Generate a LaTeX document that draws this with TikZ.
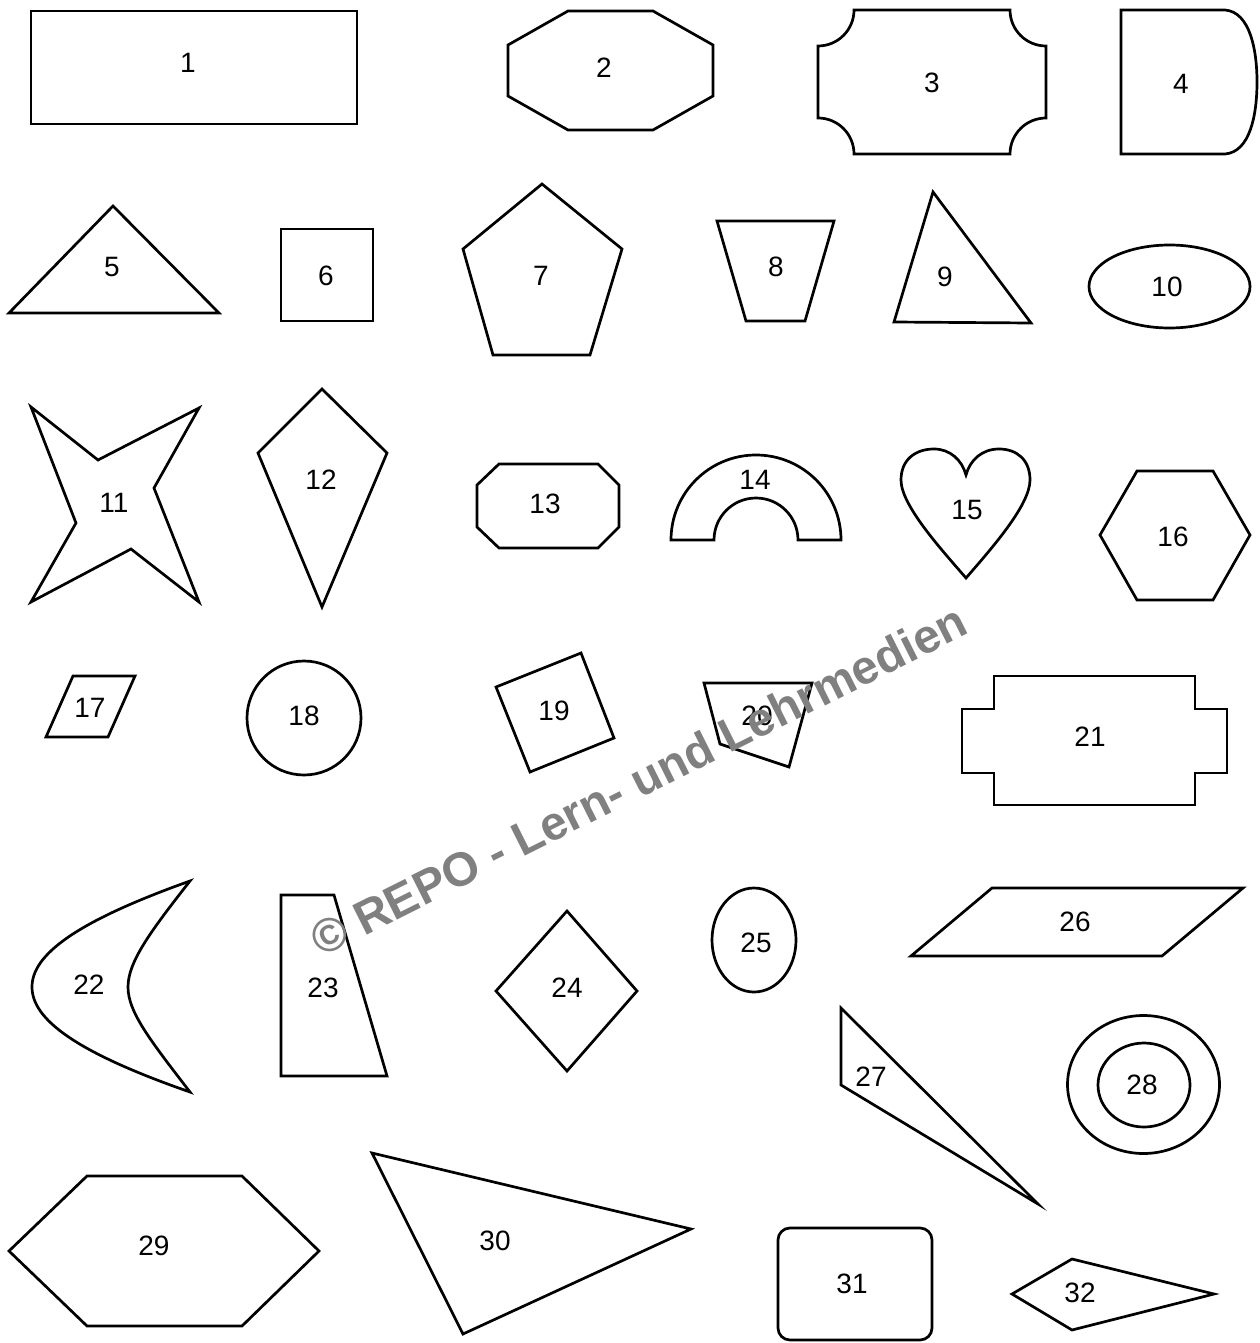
\documentclass[tikz,border=0pt]{standalone}
\usepackage{fontspec}
\setmainfont{Liberation Sans}

\begin{document}
\begin{tikzpicture}[
  x=1pt, y=-1pt,
  shp/.style={draw=black, line width=2.7pt},
  lbl/.style={inner sep=0pt, font=\fontsize{28}{30}\selectfont},
  wmark/.style={
    inner sep=0pt, anchor=base west, rotate=26.6,
    text=black!50,
    font=\bfseries\fontsize{47.5}{50}\selectfont,
  },
]
\useasboundingbox[fill=white] (0,0) rectangle (1260,1343);

%---------- row 1 ----------
\draw[shp] (31,11) rectangle (357,124);
\draw[shp] (568,11) -- (653,11) -- (713,45) -- (713,96) -- (653,130)
  -- (568,130) -- (508,96) -- (508,45) -- cycle;
\draw[shp] (854,10) -- (1010,10) arc[start angle=180, end angle=90, radius=36]
  -- (1046,118) arc[start angle=270, end angle=180, radius=36]
  -- (854,154) arc[start angle=0, end angle=-90, radius=36]
  -- (818,46) arc[start angle=90, end angle=0, radius=36] -- cycle;
\draw[shp] (1121,10) -- (1225,10) .. controls (1250,12) and (1257,50) .. (1257,82)
  .. controls (1257,115) and (1250,152) .. (1225,154) -- (1121,154) -- cycle;

%---------- row 2 ----------
\draw[shp] (9,313) -- (113,206) -- (219,313) -- cycle;
\draw[shp] (281,229) rectangle (373,321);
\draw[shp] (542,184) -- (622,249) -- (590,355) -- (493,355) -- (463,249) -- cycle;
\draw[shp] (717,221) -- (834,221) -- (805,321) -- (746,321) -- cycle;
\draw[shp] (933,192) -- (1031,323) -- (894,322) -- cycle;
\draw[shp] (1169.5,286.5) ellipse[x radius=80.5, y radius=41.5];

%---------- row 3 ----------
\draw[shp] (31,407) -- (98,460) -- (199,408) -- (154,488) -- (199,602)
  -- (131,549) -- (31,602) -- (76,523) -- cycle;
\draw[shp] (322,389) -- (387,453) -- (322,607) -- (258,453) -- cycle;
\draw[shp] (499,464) -- (598,464) -- (619,485) -- (619,527) -- (598,548)
  -- (499,548) -- (477,527) -- (477,485) -- cycle;
\draw[shp] (671,540) arc[start angle=180, end angle=360, radius=85]
  -- (798,540) arc[start angle=0, end angle=-180, radius=42] -- cycle;
\draw[shp] (966,578) .. controls (940,548) and (901,505) .. (901,480)
  .. controls (901,460) and (915,449) .. (934,449)
  .. controls (950,449) and (962,460) .. (966,475)
  .. controls (970,460) and (982,449) .. (999,449)
  .. controls (1017,449) and (1030,460) .. (1030,480)
  .. controls (1030,505) and (992,548) .. (966,578) -- cycle;
\draw[shp] (1100,535) -- (1137,471) -- (1213,471) -- (1250,535) -- (1213,600)
  -- (1137,600) -- cycle;

%---------- row 4 ----------
\draw[shp] (73,676) -- (135,676) -- (108,737) -- (46,737) -- cycle;
\draw[shp] (304,718) circle[radius=57];
\draw[shp] (496,687) -- (581,653) -- (614,738) -- (530,772) -- cycle;
\draw[shp] (704,683) -- (812,683) -- (789,767) -- (720,744) -- cycle;
\draw[shp] (994,676) -- (1195,676) -- (1195,709) -- (1227,709) -- (1227,773)
  -- (1195,773) -- (1195,805) -- (994,805) -- (994,773) -- (962,773)
  -- (962,709) -- (994,709) -- cycle;

%---------- row 5 ----------
\draw[shp] (190,881) .. controls (75,922) and (32,955) .. (32,987)
  .. controls (32,1019) and (75,1052) .. (190,1092)
  .. controls (150,1040) and (128,1012) .. (128,987)
  .. controls (128,962) and (150,932) .. (190,881) -- cycle;
\draw[shp] (281,895) -- (334,895) -- (387,1076) -- (281,1076) -- cycle;
\draw[shp] (567,911) -- (637,991) -- (567,1071) -- (496,991) -- cycle;
\draw[shp] (754,940) ellipse[x radius=42, y radius=52];
\draw[shp] (992,888) -- (1243,888) -- (1162,956) -- (911,956) -- cycle;
\draw[shp] (841,1008) -- (1038,1204) -- (841,1085) -- cycle;
\draw[shp] (1143.5,1084.5) ellipse[x radius=76, y radius=69];
\draw[shp] (1144,1085) ellipse[x radius=46, y radius=42];

%---------- row 6 ----------
\draw[shp] (9,1251) -- (87,1176) -- (242,1176) -- (319,1251) -- (242,1326)
  -- (87,1326) -- cycle;
\draw[shp] (372,1153) -- (691,1229) -- (463,1334) -- cycle;
\draw[shp, rounded corners=12pt] (778,1228) rectangle (932,1340);
\draw[shp] (1012,1294) -- (1072,1259) -- (1214,1294) -- (1072,1330) -- cycle;

%---------- numbers ----------
\foreach \n/\x/\y in {1/188/63, 2/604/68, 3/932/83, 4/1181/84,
  5/112/267, 6/326/276, 7/541/276, 8/776/267, 9/945/277, 10/1167/287,
  11/114/503, 12/321/480, 13/545/504, 14/755/480, 15/967/510, 16/1173/537,
  17/90/708, 18/304/716, 19/554/711, 20/757/716, 21/1090/737,
  22/89/985, 23/323/988, 24/567/988, 25/756/943, 26/1075/922,
  27/871/1077, 28/1142/1085,
  29/154/1246, 30/495/1241, 31/852/1284, 32/1080/1293}{
  \node[lbl] (n\n) at (\x,\y) {\n};
}

%---------- watermark ----------
\node[wmark] (wm) at (321,958) {© REPO - Lern- und Lehrmedien};

\end{tikzpicture}
\end{document}
